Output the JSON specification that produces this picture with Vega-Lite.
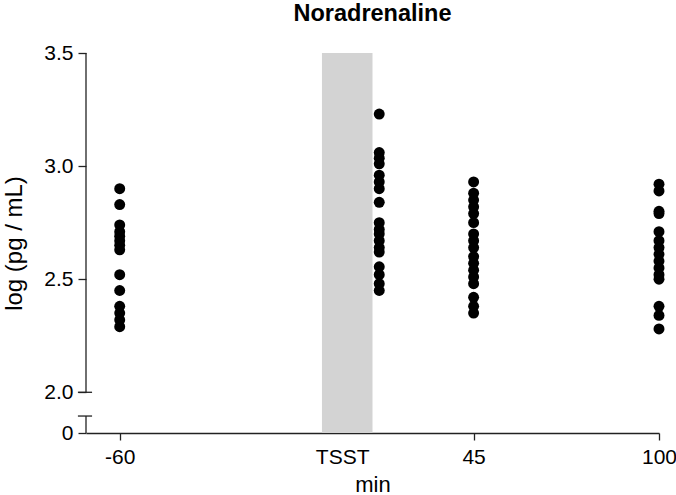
{
  "$schema": "https://vega.github.io/schema/vega-lite/v6.json",
  "width": 573,
  "height": 380,
  "autosize": {"type": "none"},
  "padding": {"left": 86, "top": 53, "right": 17, "bottom": 62},
  "config": {
    "view": {"stroke": null},
    "font": "Liberation Sans",
    "axis": {"grid": false, "labelFont": "Liberation Sans", "titleFont": "Liberation Sans", "labelColor": "#000", "titleColor": "#000", "titleFontWeight": "normal", "domainColor": "#222", "tickColor": "#222", "domainWidth": 1.3, "tickWidth": 1.3}
  },
  "title": {"text": "Noradrenaline", "fontSize": 23.5, "fontWeight": "bold", "font": "Liberation Sans", "color": "#000", "offset": 17},
  "layer": [
    {
      "data": {"values": [{"start": 0, "end": 15}]},
      "mark": {"type": "rect", "color": "#d3d3d3"},
      "encoding": {
        "x": {"field": "start", "type": "quantitative", "scale": {"domain": [-70, 100], "nice": false, "zero": false}},
        "x2": {"field": "end"},
        "y": {"datum": 1.82, "type": "quantitative", "scale": {"domain": [1.82, 3.5], "nice": false, "zero": false}},
        "y2": {"datum": 3.5}
      }
    },
    {
      "data": {"values": [
        {"min": -60, "value": 2.90}, {"min": -60, "value": 2.83}, {"min": -60, "value": 2.74}, {"min": -60, "value": 2.71}, {"min": -60, "value": 2.69}, {"min": -60, "value": 2.67}, {"min": -60, "value": 2.65}, {"min": -60, "value": 2.63}, {"min": -60, "value": 2.52}, {"min": -60, "value": 2.45}, {"min": -60, "value": 2.38}, {"min": -60, "value": 2.35}, {"min": -60, "value": 2.32}, {"min": -60, "value": 2.29},
        {"min": 17, "value": 3.23}, {"min": 17, "value": 3.06}, {"min": 17, "value": 3.035}, {"min": 17, "value": 3.01}, {"min": 17, "value": 2.96}, {"min": 17, "value": 2.93}, {"min": 17, "value": 2.90}, {"min": 17, "value": 2.84}, {"min": 17, "value": 2.75}, {"min": 17, "value": 2.72}, {"min": 17, "value": 2.70}, {"min": 17, "value": 2.67}, {"min": 17, "value": 2.64}, {"min": 17, "value": 2.62}, {"min": 17, "value": 2.555}, {"min": 17, "value": 2.52}, {"min": 17, "value": 2.48}, {"min": 17, "value": 2.45},
        {"min": 45, "value": 2.93}, {"min": 45, "value": 2.88}, {"min": 45, "value": 2.85}, {"min": 45, "value": 2.82}, {"min": 45, "value": 2.79}, {"min": 45, "value": 2.75}, {"min": 45, "value": 2.70}, {"min": 45, "value": 2.67}, {"min": 45, "value": 2.64}, {"min": 45, "value": 2.60}, {"min": 45, "value": 2.57}, {"min": 45, "value": 2.54}, {"min": 45, "value": 2.51}, {"min": 45, "value": 2.48}, {"min": 45, "value": 2.42}, {"min": 45, "value": 2.38}, {"min": 45, "value": 2.35},
        {"min": 100, "value": 2.92}, {"min": 100, "value": 2.89}, {"min": 100, "value": 2.80}, {"min": 100, "value": 2.79}, {"min": 100, "value": 2.71}, {"min": 100, "value": 2.67}, {"min": 100, "value": 2.64}, {"min": 100, "value": 2.61}, {"min": 100, "value": 2.58}, {"min": 100, "value": 2.55}, {"min": 100, "value": 2.52}, {"min": 100, "value": 2.50}, {"min": 100, "value": 2.38}, {"min": 100, "value": 2.34}, {"min": 100, "value": 2.28}
      ]},
      "mark": {"type": "circle", "color": "#000", "opacity": 1, "size": 120},
      "encoding": {
        "x": {"field": "min", "type": "quantitative", "title": "min",
          "scale": {"domain": [-70, 100], "nice": false, "zero": false},
          "axis": {"values": [-60, 6, 45, 100], "labelExpr": "datum.value == 6 ? 'TSST' : ('' + datum.value)", "labelFontSize": 21, "titleFontSize": 22, "tickSize": 7, "labelPadding": 6, "titlePadding": 7, "labelFlush": false,
            "tickOpacity": {"condition": {"test": "datum.value == 6", "value": 0}, "value": 1}}},
        "y": {"field": "value", "type": "quantitative", "title": "log (pg / mL)",
          "scale": {"domain": [1.82, 3.5], "nice": false, "zero": false},
          "axis": {"values": [1.82, 2.0, 2.5, 3.0, 3.5], "labelExpr": "datum.value < 1.9 ? '0' : format(datum.value, '.1f')", "domain": false, "labelFontSize": 21, "titleFontSize": 24, "tickSize": 8, "labelPadding": 5, "titlePadding": 17, "labelFlush": false}}
      }
    },
    {
      "data": {"values": [
        {"xa": -70, "xb": -70, "ya": 2.0, "yb": 3.5},
        {"xa": -70, "xb": -70, "ya": 1.82, "yb": 1.895},
        {"xa": -72.4, "xb": -68.2, "ya": 2.0, "yb": 2.0},
        {"xa": -72.4, "xb": -68.2, "ya": 1.895, "yb": 1.895}
      ]},
      "mark": {"type": "rule", "color": "#222", "strokeWidth": 1.3},
      "encoding": {
        "x": {"field": "xa", "type": "quantitative", "scale": {"domain": [-70, 100], "nice": false, "zero": false}},
        "x2": {"field": "xb"},
        "y": {"field": "ya", "type": "quantitative", "scale": {"domain": [1.82, 3.5], "nice": false, "zero": false}},
        "y2": {"field": "yb"}
      }
    }
  ]
}
